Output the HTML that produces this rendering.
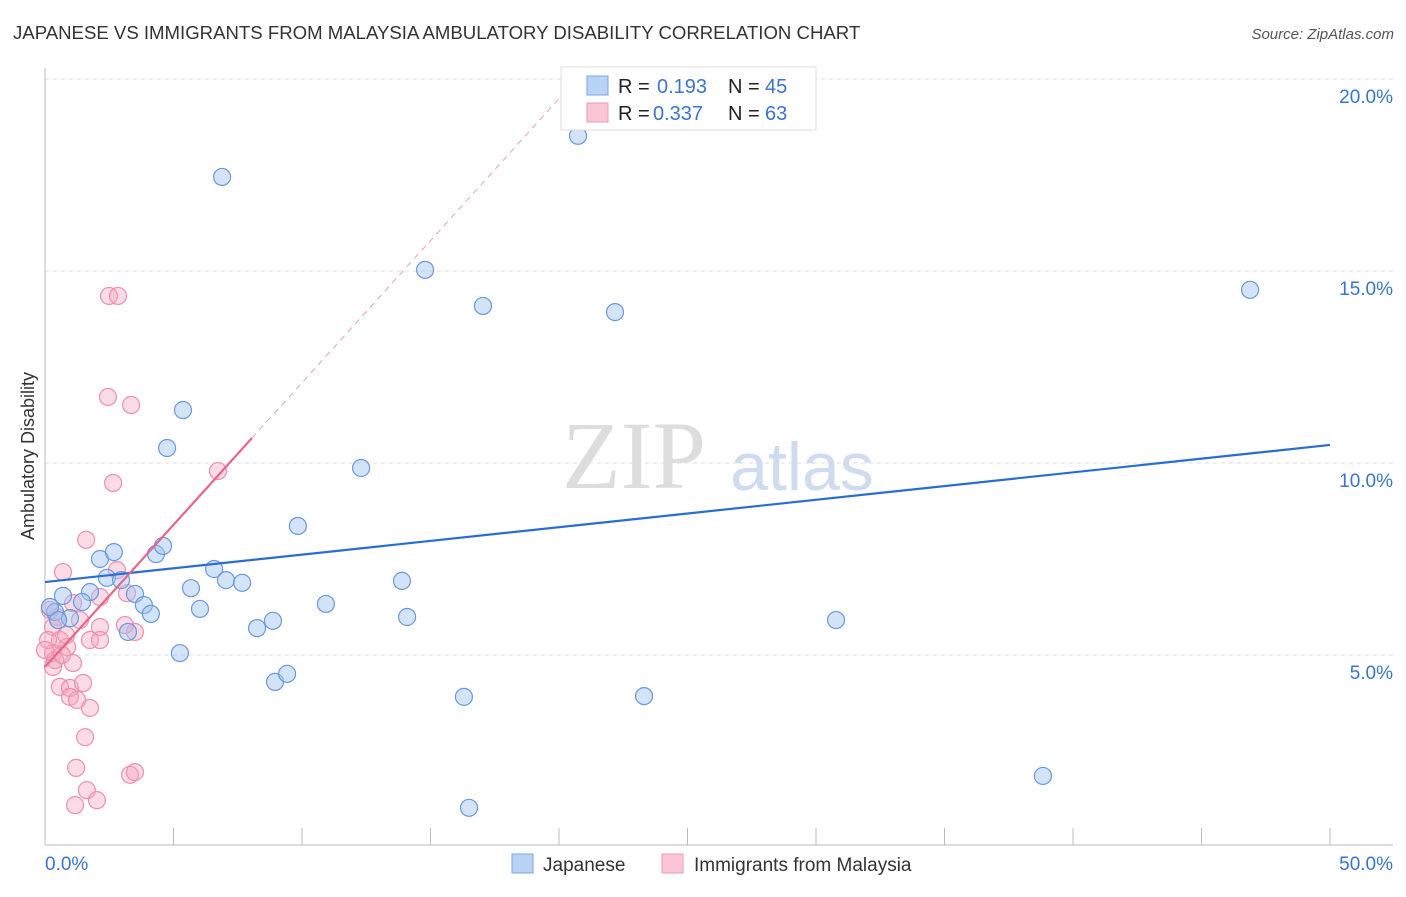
<!DOCTYPE html>
<html><head><meta charset="utf-8"><style>
body{margin:0;background:#fff;font-family:"Liberation Sans",sans-serif;}
svg text{font-family:"Liberation Sans",sans-serif;}
</style></head><body>
<svg id="chart" width="1406" height="892" viewBox="0 0 1406 892" xmlns="http://www.w3.org/2000/svg">
<text x="13" y="39" font-size="18.6" fill="#333">JAPANESE VS IMMIGRANTS FROM MALAYSIA AMBULATORY DISABILITY CORRELATION CHART</text>
<text x="1394" y="39" font-size="15" fill="#555" font-style="italic" text-anchor="end">Source: ZipAtlas.com</text>
<text x="634" y="488" font-size="96" fill="#ddd" font-family="Liberation Serif" text-anchor="middle" style="font-family:'Liberation Serif',serif">ZIP</text>
<text x="802" y="490" font-size="68" fill="#cfdcf0" text-anchor="middle">atlas</text>
<text x="34" y="456" font-size="18" fill="#333" text-anchor="middle" transform="rotate(-90 34 456)">Ambulatory Disability</text>
<g id="grid"></g><g id="axes"></g><g id="pink"></g><g id="blue"></g><g id="lines"></g>
<g>
<rect x="561" y="67" width="255" height="63" fill="#fff" stroke="#ddd"/>
<rect x="587" y="76" width="21" height="19" fill="#b8d3f5" stroke="#7aa6e0"/>
<rect x="587" y="103" width="21" height="19" fill="#fac6d6" stroke="#ee9ab4"/>
<text x="618" y="93" font-size="20" fill="#222">R = </text><text x="657" y="93" font-size="20" fill="#3b74cc">0.193</text>
<text x="728" y="93" font-size="20" fill="#222">N = </text><text x="765" y="93" font-size="20" fill="#3b74cc">45</text>
<text x="618" y="120" font-size="20" fill="#222">R = </text><text x="653" y="120" font-size="20" fill="#3b74cc">0.337</text>
<text x="728" y="120" font-size="20" fill="#222">N = </text><text x="765" y="120" font-size="20" fill="#3b74cc">63</text>
</g>
<g>
<rect x="512" y="854" width="21" height="19" fill="#b8d3f5" stroke="#7aa6e0"/>
<text x="543" y="871" font-size="19" fill="#333">Japanese</text>
<rect x="662" y="854" width="21" height="19" fill="#fac6d6" stroke="#ee9ab4"/>
<text x="694" y="871" font-size="19" fill="#333">Immigrants from Malaysia</text>
</g>
</svg>
<script>
const yTicks=[5,10,15,20];
const yTickLabels=["5.0%","10.0%","15.0%","20.0%"];
const xTickLabels=["0.0%","50.0%"];
const japX=[20.74,6.89,14.79,17.04,22.18,46.89,5.37,4.75,12.30,9.84,2.14,2.68,4.32,4.59,2.41,2.96,3.50,3.85,4.12,5.68,6.03,6.58,7.04,7.67,3.23,5.25,8.25,8.87,10.93,13.89,14.09,8.95,9.42,16.30,23.31,30.78,38.83,16.50,1.75,0.70,0.39,0.97,1.44,0.19,0.51];
const japY=[18.52,17.45,15.03,14.09,13.93,14.51,11.38,10.39,9.87,8.36,7.50,7.68,7.63,7.84,7.01,6.95,6.59,6.30,6.07,6.74,6.20,7.24,6.95,6.88,5.60,5.05,5.70,5.89,6.33,6.93,5.99,4.30,4.51,3.91,3.93,5.91,1.85,1.02,6.64,6.54,6.12,5.96,6.38,6.25,5.91];
const malX=[1.60,0.70,2.80,2.14,1.09,0.47,0.31,2.14,1.75,2.14,3.50,0.58,0.86,0.31,1.09,0.31,0.58,0.97,1.48,0.97,1.25,1.75,1.56,1.21,3.31,3.50,1.63,2.02,1.17,2.49,2.84,2.45,3.35,2.65,6.73,3.19,3.11,0.19,0.12,0.39,0.66,0.82,0.0,1.36];
const malY=[8.00,7.16,7.21,6.51,6.35,5.99,5.73,5.73,5.39,5.39,5.60,5.39,5.21,5.05,4.79,4.69,4.17,4.14,4.27,3.91,3.83,3.62,2.86,2.06,1.88,1.95,1.48,1.22,1.09,14.35,14.35,11.72,11.51,9.48,9.79,6.61,5.78,6.17,5.39,4.87,5.00,5.52,5.13,5.91];
const japTrend=[6.90,10.47];
const malTrend=[4.69,0.74,8.05];
const X=v=>45+v*25.7, Y=v=>847-v*38.4;
const NS="http://www.w3.org/2000/svg";
function mk(t,a,p){const e=document.createElementNS(NS,t);for(const k in a)e.setAttribute(k,a[k]);document.getElementById(p).appendChild(e);return e;}
yTicks.forEach((t,i)=>{
 const l=mk('line',{x1:45,x2:1393,y1:Y(t),y2:Y(t),stroke:'#ddd','stroke-dasharray':'4,4'},'grid');
 
 
 const tx=mk('text',{x:1393,y:Y(t)+24,'font-size':19,fill:'#3b74cc','text-anchor':'end'},'grid');
 tx.textContent=yTickLabels[i];
 
 
});
mk('line',{x1:45,x2:45,y1:68,y2:845,stroke:'#bbb'},'axes');
mk('line',{x1:45,x2:1393,y1:845,y2:845,stroke:'#bbb'},'axes');
for(let i=0;i<=10;i++){const t=mk('line',{x1:X(i*5),x2:X(i*5),y1:828,y2:845,stroke:'#bbb'},'axes');
 
 }
const xl0=mk('text',{x:45,y:870,'font-size':19,fill:'#3b74cc'},'axes');xl0.textContent=xTickLabels[0];


const xl1=mk('text',{x:1393,y:870,'font-size':19,fill:'#3b74cc','text-anchor':'end'},'axes');xl1.textContent=xTickLabels[1];


malX.forEach((v,i)=>{const c=mk('circle',{cx:X(v),cy:Y(malY[i]),r:8.5,fill:'rgba(245,165,190,0.4)',stroke:'#ee8fae','stroke-width':1.2},'pink');
 
 });
japX.forEach((v,i)=>{const c=mk('circle',{cx:X(v),cy:Y(japY[i]),r:8.5,fill:'rgba(160,196,240,0.45)',stroke:'#6a98dc','stroke-width':1.2},'blue');
 
 });
const bl=mk('line',{x1:X(0),y1:Y(japTrend[0]),x2:X(50),y2:Y(japTrend[1]),stroke:'#2a6dd0','stroke-width':2.2},'lines');


const pl=mk('line',{x1:X(0),y1:Y(malTrend[0]),x2:X(malTrend[2]),y2:Y(malTrend[0]+malTrend[1]*malTrend[2]),stroke:'#e8648e','stroke-width':2.2},'lines');


const xe=(20.3-malTrend[0])/malTrend[1];
const pd=mk('line',{x1:X(malTrend[2]),y1:Y(malTrend[0]+malTrend[1]*malTrend[2]),x2:X(xe),y2:Y(20.3),stroke:'#e8a0b6','stroke-width':1,'stroke-dasharray':'6,5'},'lines');


</script>
</body></html>
